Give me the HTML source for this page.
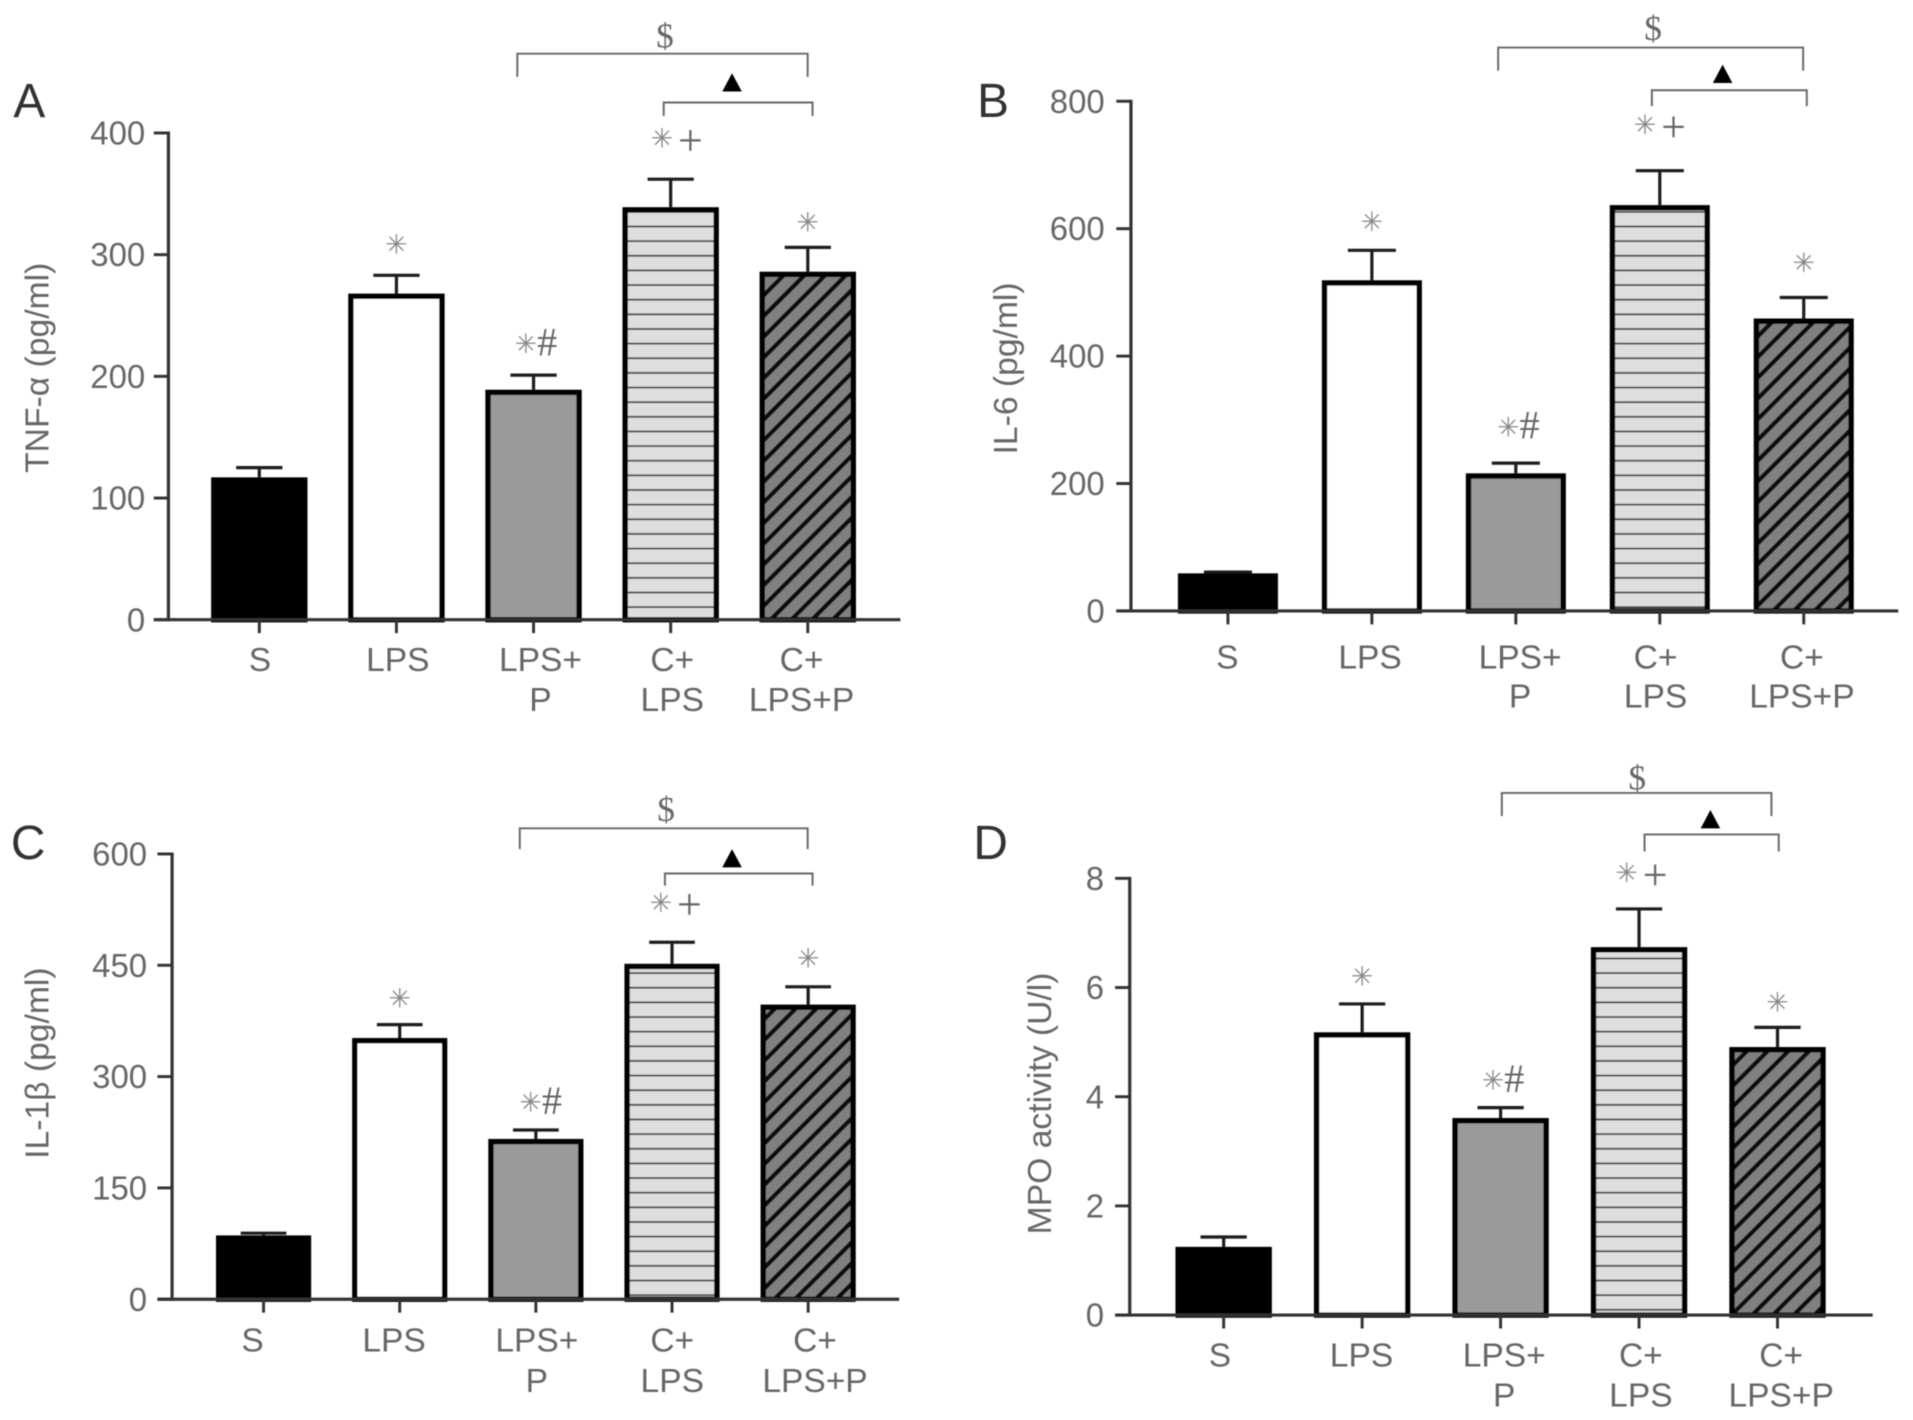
<!DOCTYPE html>
<html lang="en">
<head>
<meta charset="utf-8">
<title>Cytokine and MPO bar charts</title>
<style>
html,body{margin:0;padding:0;background:#fff;}
svg{display:block;}
text{font-family:"Liberation Sans",sans-serif;fill:#666;}
.serif{font-family:"Liberation Serif",serif;}
.ast{font-family:"DejaVu Sans",sans-serif;fill:#888;}
</style>
</head>
<body>
<svg id="figure" xmlns="http://www.w3.org/2000/svg" width="1913" height="1420" viewBox="0 0 1568 1164">
<defs>
<filter id="soft" x="-2%" y="-2%" width="104%" height="104%"><feGaussianBlur stdDeviation="0.45"/></filter>
<pattern id="hatch-horizontal" patternUnits="userSpaceOnUse" width="12" height="12">
<rect width="12" height="12" fill="#dedede"/>
<rect y="5" width="12" height="1.4" fill="#3a3a3a"/>
</pattern>
<pattern id="hatch-diagonal" patternUnits="userSpaceOnUse" width="12" height="12" patternTransform="rotate(-45)">
<rect width="12" height="12" fill="#808080"/>
<rect y="0" width="12" height="3.6" fill="#0a0a0a"/>
</pattern>
</defs>
<g id="root" filter="url(#soft)"></g>
</svg>
<script>
const categoryLines = [["S"], ["LPS"], ["LPS+", "P"], ["C+", "LPS"], ["C+", "LPS+P"]];
const significance = ["", "*", "*#", "*+", "*"];

const tnfValues = [117, 268, 189, 339, 286];
const tnfErrorTops = [125, 283, 201, 362, 306];
const tnfTicks = [0, 100, 200, 300, 400];

const il6Values = [59, 519, 216, 637, 459];
const il6ErrorTops = [61, 566, 232, 691, 492];
const il6Ticks = [0, 200, 400, 600, 800];

const il1Values = [86, 352, 216, 452, 397];
const il1ErrorTops = [89, 370, 228, 481, 421];
const il1Ticks = [0, 150, 300, 450, 600];

const mpoValues = [1.25, 5.18, 3.61, 6.74, 4.91];
const mpoErrorTops = [1.43, 5.7, 3.8, 7.44, 5.27];
const mpoTicks = [0, 2, 4, 6, 8];

const panels = [
  {id: "a", letter: "A", lx: 24, ly: 96, title: "TNF-α (pg/ml)", tx: 31, ty: 301.5, axisX: 138, top: 109, base: 508, end: 738, tickGap: 19,
   first: 212.5, step: 112.4, bw: 79, values: tnfValues, errs: tnfErrorTops, ticks: tnfTicks,
   labelX: [213, 326, 443, 551, 657], labelY: [550, 583], gaps: [0, 25, 25, 33, 20], markDx: [0, 0, 2, 5, 0],
   big: [424, 662, 44, 63], small: [544, 666, 84, 95], dollar: [545, 39], tri: [600, 68]},
  {id: "b", letter: "B", lx: 814, ly: 96, title: "IL-6 (pg/ml)", tx: 825, ty: 302, axisX: 927, top: 83, base: 500.8, end: 1556, tickGap: 21.5,
   first: 1006.5, step: 118, bw: 82, values: il6Values, errs: il6ErrorTops, ticks: il6Ticks,
   labelX: [1006, 1123, 1246, 1357, 1477], labelY: [548, 580], gaps: [0, 23, 29, 37, 28], markDx: [0, 0, 2, 0, 0],
   big: [1228, 1478, 39, 58], small: [1354, 1481, 74, 87], dollar: [1355, 33], tri: [1412, 61]},
  {id: "c", letter: "C", lx: 23, ly: 704, title: "IL-1β (pg/ml)", tx: 31, ty: 871.5, axisX: 141, top: 700, base: 1065, end: 737, tickGap: 20.5,
   first: 216, step: 111.6, bw: 78, values: il1Values, errs: il1ErrorTops, ticks: il1Ticks,
   labelX: [207, 323, 440, 551, 668], labelY: [1108, 1141], gaps: [0, 21, 22, 32, 23], markDx: [0, 0, 4, 3, 0],
   big: [426, 662, 679, 696], small: [545, 666, 716, 726], dollar: [546, 673], tri: [600, 704]},
  {id: "d", letter: "D", lx: 812, ly: 704, title: "MPO activity (U/l)", tx: 853, ty: 904.5, axisX: 926, top: 720, base: 1078, end: 1535, tickGap: 21,
   first: 1003, step: 113.5, bw: 79, values: mpoValues, errs: mpoErrorTops, ticks: mpoTicks,
   labelX: [1000, 1116, 1233, 1345, 1460], labelY: [1120, 1153], gaps: [0, 22, 22, 29, 20], markDx: [0, 0, 2, 2, 0],
   big: [1231, 1452, 650, 669], small: [1348, 1458, 684, 698], dollar: [1342, 647], tri: [1402, 672]}
];

const NS = "http://www.w3.org/2000/svg";
const barFills = ["#000", "#fff", "#9a9a9a", "url(#hatch-horizontal)", "url(#hatch-diagonal)"];

function mk(tag, attrs, parent, name) {
  const el = document.createElementNS(NS, tag);
  for (const k in attrs) el.setAttribute(k, attrs[k]);
  
  
  parent.appendChild(el);
  return el;
}

function line(x1, y1, x2, y2, color, w, parent, name) {
  return mk("line", {x1, y1, x2, y2, stroke: color, "stroke-width": w}, parent, name);
}

function bracket(c, parent, name) {
  const d = "M" + c[0] + " " + c[3] + "V" + c[2] + "H" + c[1] + "V" + c[3];
  return mk("path", {d, fill: "none", stroke: "#666", "stroke-width": 1.6}, parent, name);
}

function drawMark(text, x, y, parent, name) {
  const t = mk("text", {x, y: y + 7, "text-anchor": "middle", "font-size": 25}, parent, name);
  for (const ch of text) {
    const s = document.createElementNS(NS, "tspan");
    if (ch === "*") {
      s.setAttribute("class", "ast");
      s.setAttribute("font-size", "22");
      s.textContent = "✳";
    } else {
      s.setAttribute("class", "serif");
      s.setAttribute("font-size", ch === "#" ? "33" : "36");
      s.setAttribute("dx", ch === "+" ? "4" : "0");
      s.setAttribute("dy", ch === "+" ? "6" : "2");
      s.textContent = ch;
    }
    t.appendChild(s);
  }
}

function drawPanel(p, root) {
  const g = mk("g", {}, root, "panel-" + p.id);
  const maxV = p.ticks[p.ticks.length - 1];
  const yScale = v => p.base - (v / maxV) * (p.base - p.top);
  const xScale = i => p.first + i * p.step;

  const letter = mk("text", {x: p.lx, y: p.ly, "text-anchor": "middle", "font-size": 39.2}, g, "panel-letter-" + p.id);
  letter.style.fill = "#333";
  letter.textContent = p.letter;

  const title = mk("text", {x: p.tx, y: p.ty, "text-anchor": "middle", "font-size": 27.6,
    transform: "rotate(-90 " + p.tx + " " + p.ty + ")", "dominant-baseline": "central"}, g, "y-axis-title-" + p.id);
  title.textContent = p.title;

  p.values.forEach((v, i) => {
    const cx = xScale(i), w = p.bw, errY = yScale(p.errs[i]), topY = yScale(v);
    line(cx, errY, cx, topY, "#1a1a1a", 2.6, g, "error-stem-" + p.id + "-" + i);
    line(cx - w * 0.24, errY, cx + w * 0.24, errY, "#1a1a1a", 2.6, g, "error-cap-" + p.id + "-" + i);
    mk("rect", {x: cx - w / 2 + 2.2, y: topY + 2.2, width: w - 4.4, height: Math.max(0, p.base - topY - 2.2),
      fill: barFills[i], stroke: "#000", "stroke-width": 4.4}, g, "bar-" + p.id + "-" + i);
    line(cx, p.base, cx, p.base + 11, "#333", 2.4, g, "x-tick-" + p.id + "-" + i);

    categoryLines[i].forEach((txt, k) => {
      const lab = mk("text", {x: p.labelX[i], y: p.labelY[k], "text-anchor": "middle", "font-size": 27.5}, g, "x-label-" + p.id + "-" + i + "-" + k);
      lab.textContent = txt;
    });

    if (significance[i]) {
      drawMark(significance[i], cx + p.markDx[i], errY - p.gaps[i], g, "significance-" + p.id + "-" + i);
    }
  });

  line(p.axisX, p.top - 1.2, p.axisX, p.base + 1.2, "#333", 2.6, g, "y-axis-" + p.id);
  line(p.axisX - 12, p.base, p.end, p.base, "#333", 2.6, g, "x-axis-" + p.id);

  p.ticks.forEach((t, i) => {
    const y = yScale(t);
    line(p.axisX - 12, y, p.axisX, y, "#333", 2.4, g, "y-tick-" + p.id + "-" + i);
    const lab = mk("text", {x: p.axisX - p.tickGap, y: y + 9.5, "text-anchor": "end", "font-size": 27}, g, "y-tick-label-" + p.id + "-" + i);
    lab.textContent = t;
  });

  bracket(p.big, g, "bracket-dollar-" + p.id);
  bracket(p.small, g, "bracket-triangle-" + p.id);

  const dollar = mk("text", {x: p.dollar[0], y: p.dollar[1], "text-anchor": "middle", "font-size": 29, "class": "serif"}, g, "dollar-mark-" + p.id);
  dollar.textContent = "$";

  const tx = p.tri[0], ty = p.tri[1];
  mk("polygon", {points: (tx - 8) + "," + (ty + 7) + " " + (tx + 8) + "," + (ty + 7) + " " + tx + "," + (ty - 8), fill: "#000"}, g, "triangle-mark-" + p.id);
}

const rootGroup = document.getElementById("root");
panels.forEach(p => drawPanel(p, rootGroup));
</script>
</body>
</html>
